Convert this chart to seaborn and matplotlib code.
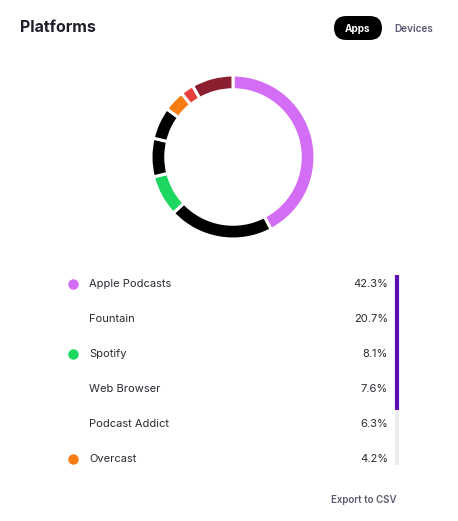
import matplotlib
matplotlib.use("Agg")
import matplotlib.pyplot as plt
from matplotlib.patches import FancyBboxPatch
from matplotlib.lines import Line2D
import seaborn as sns

# slices of the ring, clockwise from 12 o'clock
apps = ["Apple Podcasts", "Fountain", "Spotify", "Web Browser",
        "Podcast Addict", "Overcast", "Other A", "Other B"]
shares = [42.3, 20.7, 8.1, 7.6, 6.3, 4.2, 2.6, 8.2]
colors = ["#d46df6", "#000000", "#1ed760", "#000000",
          "#000000", "#f77c13", "#e8413c", "#8c1f2f"]

# rows shown in the list below the ring
list_names = apps[:6]
list_values = ["42.3%", "20.7%", "8.1%", "7.6%", "6.3%", "4.2%"]
list_dots = ["#d46df6", None, "#1ed760", None, None, "#f77c13"]

sns.set_theme(style="white")
plt.rcParams['font.family'] = ['Inter', 'DejaVu Sans']

W, H = 458, 521
fig = plt.figure(figsize=(W / 100, H / 100), dpi=100)
fig.patch.set_facecolor("white")

def fx(x):
    return x / W

def fy(y):
    return 1 - y / H

# donut
cx, cy, r = 233, 157, 82
ax = fig.add_axes([fx(cx - r), fy(cy + r), 2 * r / W, 2 * r / H])
ax.pie(shares, colors=colors, startangle=90, counterclock=False,
       wedgeprops=dict(width=0.18, edgecolor="white", linewidth=2.2))
ax.set_xlim(-1, 1)
ax.set_ylim(-1, 1)
ax.set_aspect("equal")
ax.axis("off")

# header
fig.text(fx(20), fy(27), "Platforms", fontsize=11.5, fontweight="bold",
         color="#1f1f2b", va="center", ha="left")
pill = FancyBboxPatch((fx(334), fy(40)), fx(48), 24 / H,
                      boxstyle="round,pad=0,rounding_size=0.027",
                      transform=fig.transFigure, facecolor="black",
                      edgecolor="none", mutation_aspect=W / H)
fig.add_artist(pill)
fig.text(fx(358), fy(29), "Apps", fontsize=7.2, fontweight="bold",
         color="white", va="center", ha="center")
fig.text(fx(414), fy(29), "Devices", fontsize=7.2, fontweight="semibold",
         color="#5c5a72", va="center", ha="center")

# list
row_y = [284, 319, 354, 389, 424, 459]
for name, val, dot, y in zip(list_names, list_values, list_dots, row_y):
    if dot:
        fig.add_artist(Line2D([fx(73)], [fy(y)], marker="o", markersize=6.5,
                              color=dot, transform=fig.transFigure))
    fig.text(fx(89), fy(y), name, fontsize=8, color="#2a2a33",
             va="center", ha="left")
    fig.text(fx(388), fy(y), val, fontsize=8, color="#2a2a33",
             va="center", ha="right")

# scrollbar
fig.add_artist(Line2D([fx(397), fx(397)], [fy(275), fy(465)], lw=3,
                      color="#ececee", transform=fig.transFigure,
                      solid_capstyle="butt"))
fig.add_artist(Line2D([fx(397), fx(397)], [fy(275), fy(410)], lw=3,
                      color="#5a0fb0", transform=fig.transFigure,
                      solid_capstyle="butt"))

fig.text(fx(397), fy(500), "Export to CSV", fontsize=7, fontweight="semibold",
         color="#5c5a72", va="center", ha="right")

fig.savefig("out.png", dpi=100, facecolor="white")
